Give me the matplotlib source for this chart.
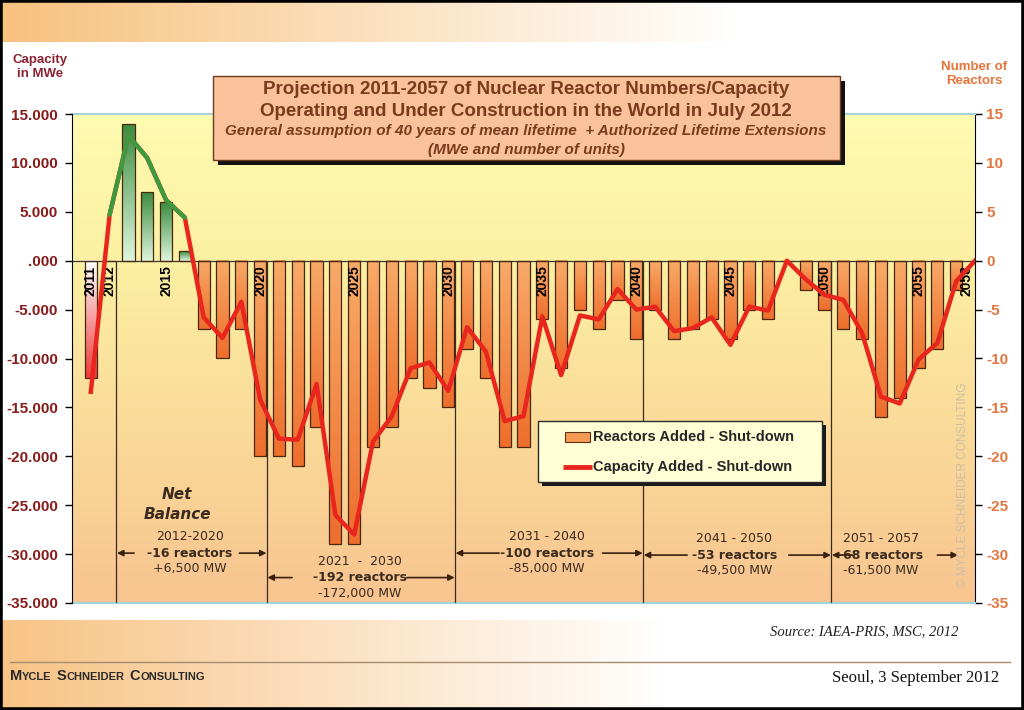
import numpy as np
import matplotlib
matplotlib.use('Agg')
from matplotlib import pyplot as plt
from matplotlib.colors import LinearSegmentedColormap
from matplotlib.patches import Rectangle
from matplotlib.ticker import FuncFormatter, MultipleLocator

plt.rcParams['font.family'] = ['Liberation Sans', 'DejaVu Sans']
plt.rcParams['axes.unicode_minus'] = False

# reactors added - shut-down (units), 2011..2057
bar_years = list(range(2011, 2058))
reactors = [-12, 0, 14, 7, 6, 1, -7, -10, -7, -20,
            -20, -21, -17, -29, -29, -19, -17, -12, -13, -15,
            -9, -12, -19, -19, -6, -11, -5, -7, -4, -8,
            -5, -8, -7, -6, -8, -5, -6, 0, -3, -5,
            -7, -8, -16, -14, -11, -9, -3]
# capacity added - shut-down (MWe), 2011..2058
line_years = list(range(2011, 2059))
capacity = [-13400, 4700, 12800, 10500, 6200, 4400, -5800, -7900, -4200, -14200,
            -18200, -18300, -12600, -26000, -28000, -18500, -15900, -11000, -10400, -13300,
            -6800, -9300, -16400, -15900, -5700, -11700, -5600, -6000, -2900, -5000,
            -4700, -7200, -6900, -5800, -8600, -4700, -5100, 0, -1900, -3500,
            -4000, -7400, -13900, -14600, -10100, -8400, -2100, 0]
label_years = [2011, 2012, 2015, 2020, 2025, 2030, 2035, 2040, 2045, 2050, 2055, 2058]
period_ends = [2012, 2020, 2030, 2040, 2050]
period_years = ['2012-2020', '2021  -  2030', '2031 - 2040', '2041 - 2050', '2051 - 2057']
period_units = ['-16 reactors', '-192 reactors', '-100 reactors', '-53 reactors', '-68 reactors']
period_mw = ['+6,500 MW', '-172,000 MW', '-85,000 MW', '-49,500 MW', '-61,500 MW']

# layout of the period notes: text centre x, middle-line y, arrow tails (left, right), arrow heads
note_x = [2016.25, 2025.3, 2035.25, 2045.2, 2053.0]
note_y = [-29.9, -32.4, -29.9, -30.1, -30.1]
tail_l = [2013.3, 2021.7, 2032.7, 2042.7, 2051.5]
tail_r = [2018.9, 2027.8, 2038.2, 2048.1, 2056.0]
head_r = [2020.34, 2030.34, 2040.34, 2050.34, 2057.1]

BROWN = '#3B2A1E'

fig = plt.figure(figsize=(10.24, 7.10), dpi=100)
fig.patch.set_facecolor('white')

# background bands (pixel coords)
bg = fig.add_axes([0, 0, 1, 1], zorder=0)
band = LinearSegmentedColormap.from_list('band', [(0, '#F7C27E'), (0.72, '#FFFFFF'), (1, '#FFFFFF')])
hgrad = np.linspace(0, 1, 256).reshape(1, -1)
bg.imshow(hgrad, cmap=band, extent=(0, 1024, 42, 0), aspect='auto')
band2 = LinearSegmentedColormap.from_list('band2', [(0, '#F8C385'), (0.65, '#FFFFFF'), (1, '#FFFFFF')])
bg.imshow(hgrad, cmap=band2, extent=(0, 1024, 710, 620), aspect='auto')
bg.set_xlim(0, 1024)
bg.set_ylim(710, 0)
bg.axis('off')

ax = fig.add_axes([72 / 1024, 1 - 603 / 710, 903 / 1024, 489 / 710])
ax2 = ax.twinx()
ax2.set_zorder(1)
ax.set_zorder(2)
ax.patch.set_visible(False)

# plot area gradient
pgrad = LinearSegmentedColormap.from_list('plot', [(0, '#FFFBB0'), (0.3, '#FCF0A2'), (1, '#F8C490')])
ax2.imshow(np.linspace(0, 1, 256).reshape(-1, 1), cmap=pgrad, extent=(2010, 2058, -35, 15),
           aspect='auto', zorder=0)


def grad_bar(axis, x, h, w, c_base, c_tip):
    cmap = LinearSegmentedColormap.from_list('b', [c_base, c_tip])
    g = np.linspace(0, 1, 64).reshape(-1, 1)
    if h > 0:
        g = g[::-1]
    axis.imshow(g, cmap=cmap, extent=(x - w / 2, x + w / 2, min(h, 0), max(h, 0)),
                aspect='auto', origin='upper', zorder=2)


width = 0.65
for yr, h in zip(bar_years, reactors):
    if h == 0:
        continue
    if yr == 2011:
        grad_bar(ax2, yr, h, width, '#FFFFFF', '#EE3B3B')
    elif h > 0:
        grad_bar(ax2, yr, h, width, '#DDF6DD', '#3C8C40')
    else:
        grad_bar(ax2, yr, h, width, '#F8AA68', '#EE6E2C')
ax2.bar(bar_years, reactors, width=width, facecolor='none', edgecolor='#4A2810', linewidth=0.9, zorder=3)
ax2.axhline(0, color='#3A3A3A', lw=0.9, zorder=2.5)
ax2.vlines([e + 0.34 for e in period_ends], -35, 0, color=BROWN, lw=0.9, zorder=3)

for yr in label_years:
    xx = yr - 0.45 if yr == 2058 else yr
    ax2.text(xx, -0.5, str(yr), rotation=90, ha='center', va='top', fontsize=10,
             fontweight='bold', color='black', zorder=4)

# capacity line
cap = np.array(capacity, dtype=float)
ax.plot(line_years, cap, color='#E8261E', lw=3.2, solid_joinstyle='round', zorder=5)
ax.plot(line_years, np.where(cap > 0, cap, np.nan), color='#3E9A3E', lw=3.2,
        solid_joinstyle='round', solid_capstyle='round', zorder=6)

# period notes
ax2.text(2015.6, -23.9, 'Net', ha='center', va='center', fontsize=11, fontweight='bold',
         style='italic', family='DejaVu Sans', color=BROWN, zorder=6)
ax2.text(2015.6, -25.9, 'Balance', ha='center', va='center', fontsize=11, fontweight='bold',
         style='italic', family='DejaVu Sans', color=BROWN, zorder=6)
for i in range(5):
    ax2.text(note_x[i], note_y[i] + 1.65, period_years[i], ha='center', va='center',
             fontsize=9, family='DejaVu Sans', color=BROWN, zorder=6)
    ax2.text(note_x[i], note_y[i], period_units[i], ha='center', va='center',
             fontsize=9, fontweight='bold', family='DejaVu Sans', color=BROWN, zorder=6)
    ax2.text(note_x[i], note_y[i] - 1.6, period_mw[i], ha='center', va='center',
             fontsize=9, family='DejaVu Sans', color=BROWN, zorder=6)
    arr = dict(arrowstyle='-|>', color='#3B2010', lw=1.2, mutation_scale=9, shrinkA=0, shrinkB=0)
    ax2.annotate('', xy=(period_ends[i] + 0.34 + 0.05, note_y[i]), xytext=(tail_l[i], note_y[i]),
                 arrowprops=arr, zorder=6)
    ax2.annotate('', xy=(head_r[i], note_y[i]), xytext=(tail_r[i], note_y[i]),
                 arrowprops=arr, zorder=6)

# axes
ax.set_xlim(2010, 2058)
ax2.set_xlim(2010, 2058)
ax.set_xticks([])
ax.set_ylim(-35000, 15000)
ax2.set_ylim(-35, 15)
ax.yaxis.set_major_locator(MultipleLocator(5000))
ax2.yaxis.set_major_locator(MultipleLocator(5))


def mwe(v, pos):
    s = f'{v / 1000:.3f}'
    return '.000' if s in ('0.000', '-0.000') else s


ax.yaxis.set_major_formatter(FuncFormatter(mwe))
ax.tick_params(axis='y', direction='out', length=5, width=1, pad=5, labelsize=11,
               labelcolor='#861C1C')
ax2.tick_params(axis='y', direction='out', length=5, width=1, pad=3, labelsize=11,
                labelcolor='#E3763F')
for lbl in ax.get_yticklabels() + ax2.get_yticklabels():
    lbl.set_fontweight('bold')
for s in ['top', 'bottom', 'right']:
    ax.spines[s].set_visible(False)
ax2.spines['left'].set_visible(False)
ax2.spines['top'].set_color('#A6D2DA')
ax2.spines['bottom'].set_color('#A6D2DA')
ax2.spines['top'].set_linewidth(1.5)
ax2.spines['bottom'].set_linewidth(1.5)

# overlay: title box, legend, captions (pixel coords)
ov = fig.add_axes([0, 0, 1, 1], zorder=3)
ov.set_xlim(0, 1024)
ov.set_ylim(710, 0)
ov.axis('off')

ov.add_patch(Rectangle((218, 81), 627, 84, facecolor='#111111', edgecolor='none'))
ov.add_patch(Rectangle((213, 76), 627, 84, facecolor='#F9C29A', edgecolor='#6B3A20', lw=1))
TITLE = '#7A3A1C'
ov.text(526, 90, 'Projection 2011-2057 of Nuclear Reactor Numbers/Capacity', ha='center', va='center',
        fontsize=13.5, fontweight='bold', color=TITLE)
ov.text(526, 112, 'Operating and Under Construction in the World in July 2012', ha='center', va='center',
        fontsize=13.5, fontweight='bold', color=TITLE)
ov.text(526, 131, 'General assumption of 40 years of mean lifetime  + Authorized Lifetime Extensions',
        ha='center', va='center', fontsize=11, fontweight='bold', style='italic', color=TITLE)
ov.text(526, 150, '(MWe and number of units)', ha='center', va='center', fontsize=11,
        fontweight='bold', style='italic', color=TITLE)

ov.text(40, 67, 'Capacity\nin MWe', ha='center', va='center', fontsize=9.5, fontweight='bold',
        color='#8B2335', linespacing=1.25)
ov.text(974, 74, 'Number of\nReactors', ha='center', va='center', fontsize=9.5, fontweight='bold',
        color='#E8743A', linespacing=1.25)

# legend
ov.add_patch(Rectangle((542, 425), 284, 61, facecolor='#1A1A1A', edgecolor='none'))
ov.add_patch(Rectangle((538, 421), 284, 61, facecolor='#FFFFD6', edgecolor='#2A2A2A', lw=1))
ov.add_patch(Rectangle((565, 432), 25, 10, facecolor='#F59A55', edgecolor='#5A3010', lw=0.8))
ov.plot([563, 592], [467, 467], color='#E8261E', lw=3.5, solid_capstyle='butt')
ov.text(593, 437, 'Reactors Added - Shut-down', ha='left', va='center', fontsize=10.5,
        fontweight='bold', color='#262626')
ov.text(593, 467, 'Capacity Added - Shut-down', ha='left', va='center', fontsize=10.5,
        fontweight='bold', color='#262626')

ov.text(963, 485, '\u00a9 MYCLE SCHNEIDER CONSULTING', rotation=90, ha='center', va='center',
        fontsize=8.5, color='#CDBFA8')

ov.text(958, 632, 'Source: IAEA-PRIS, MSC, 2012', ha='right', va='center', family='Liberation Serif',
        style='italic', fontsize=10.5, color='#222222')
ov.plot([10, 1010], [662, 662], color='#A58C70', lw=1)
ov.text(999, 678, 'Seoul, 3 September 2012', ha='right', va='center', family='Liberation Serif',
        fontsize=12, color='#111111')

# small caps footer
renderer = fig.canvas.get_renderer()
x = 10
for word in ['Mycle', 'Schneider', 'Consulting']:
    t = ov.text(x, 680, word[0], ha='left', va='baseline', fontsize=10.5, fontweight='bold', color='#2A2A2A')
    x += t.get_window_extent(renderer).width
    t = ov.text(x, 680, word[1:].upper(), ha='left', va='baseline', fontsize=8, fontweight='bold',
                color='#2A2A2A')
    x += t.get_window_extent(renderer).width + 5

ov.add_patch(Rectangle((0, 0), 1024, 710, fill=False, edgecolor='black', lw=4))

fig.savefig('out.png', dpi=100)
